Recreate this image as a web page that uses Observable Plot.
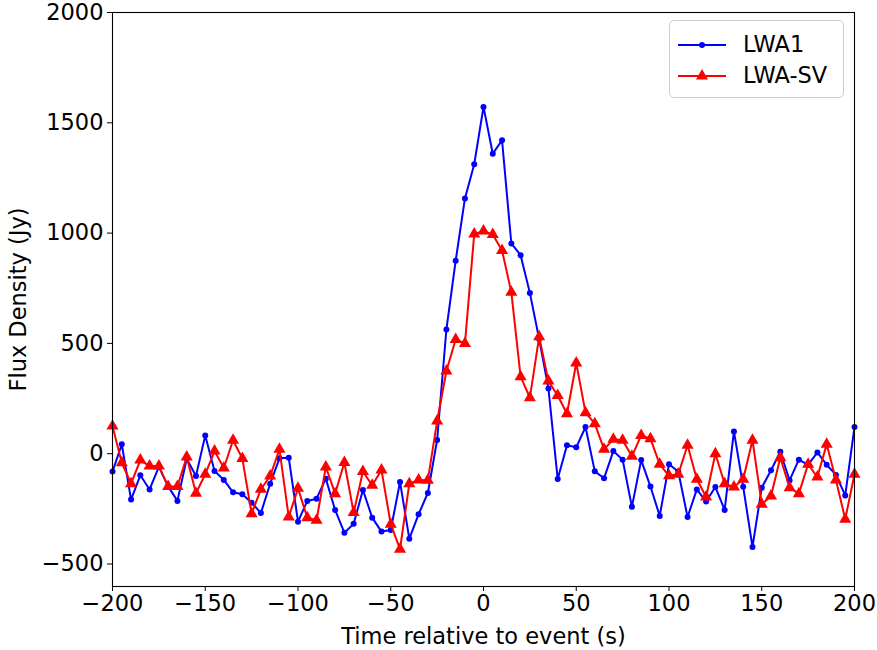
<!DOCTYPE html>
<html><head><meta charset="utf-8">
<script src="https://cdn.jsdelivr.net/npm/d3@7"></script>
<script src="https://cdn.jsdelivr.net/npm/@observablehq/plot@0.6"></script>
<style>
body{margin:0;background:#fff;}
#wrap{position:relative;width:877px;height:650px;font-family:"DejaVu Sans";}
.legend{position:absolute;left:669px;top:20px;width:175px;height:78px;border:1px solid #cccccc;border-radius:5px;background:rgba(255,255,255,0.8);box-sizing:border-box;}
.legend .row{position:absolute;left:0;height:30px;width:100%;}
.legend .row svg{position:absolute;left:7px;top:0;}
.legend .row span{position:absolute;left:73px;top:1px;font-size:22.5px;line-height:27px;color:#000;}
</style></head><body><div id="wrap"></div>
<script>
const times=[-200,-195,-190,-185,-180,-175,-170,-165,-160,-155,-150,-145,-140,-135,-130,-125,-120,-115,-110,-105,-100,-95,-90,-85,-80,-75,-70,-65,-60,-55,-50,-45,-40,-35,-30,-25,-20,-15,-10,-5,0,5,10,15,20,25,30,35,40,45,50,55,60,65,70,75,80,85,90,95,100,105,110,115,120,125,130,135,140,145,150,155,160,165,170,175,180,185,190,195,200];
const lwa1=[-81,43,-208,-98,-162,-60,-148,-214,-23,-101,83,-78,-119,-175,-184,-222,-269,-136,-21,-18,-308,-214,-204,-113,-255,-358,-318,-164,-290,-353,-346,-128,-385,-275,-178,62,563,875,1157,1312,1572,1360,1421,953,900,729,520,296,-115,38,29,121,-80,-111,12,-27,-241,-29,-149,-282,-48,-81,-287,-162,-217,-151,-255,101,-150,-423,-154,-75,9,-121,-27,-51,6,-50,-96,-189,121];
const lwasv=[125,-41,-136,-29,-56,-56,-149,-149,-15,-179,-93,12,-65,61,-22,-272,-161,-101,20,-287,-157,-290,-302,-60,-181,-40,-267,-81,-143,-74,-320,-433,-136,-119,-120,148,375,518,500,996,1009,994,921,732,349,254,530,329,264,181,411,186,136,20,65,61,-12,83,68,-48,-100,-93,38,-116,-196,0,-136,-151,-116,61,-229,-192,-18,-154,-181,-48,-106,43,-119,-297,-93];
const seriesNames=["LWA1","LWA-SV"];
const seriesColors=["#0000ff","#ff0000"];
const xTicks=[-200,-150,-100,-50,0,50,100,150,200];
const yTicks=[-500,0,500,1000,1500,2000];
const xLabel="Time relative to event (s)";
const yLabel="Flux Density (Jy)";

const rows1=times.map((t,i)=>({t,v:lwa1[i]}));
const rows2=times.map((t,i)=>({t,v:lwasv[i]}));
const fmt=d=>String(d).replace("-","\u2212");

const chart=Plot.plot({
  width:877,height:650,
  marginLeft:112,marginRight:23,marginTop:12,marginBottom:64,
  style:{fontFamily:"DejaVu Sans",fontSize:"22.5px",background:"white",color:"black",overflow:"visible"},
  x:{domain:[-200,200]},
  y:{domain:[-602,2000]},
  marks:[
    Plot.axisX({ticks:xTicks,tickFormat:fmt,tickSize:5,tickPadding:4,label:xLabel,labelAnchor:"center",labelOffset:57,labelArrow:"none"}),
    Plot.axisY({ticks:yTicks,tickFormat:fmt,tickSize:5,tickPadding:4,label:yLabel,labelAnchor:"center",labelOffset:102,labelArrow:"none"}),
    Plot.line(rows1,{x:"t",y:"v",stroke:seriesColors[0],strokeWidth:2}),
    Plot.dot(rows1,{x:"t",y:"v",r:3,fill:seriesColors[0],stroke:"none"}),
    Plot.line(rows2,{x:"t",y:"v",stroke:seriesColors[1],strokeWidth:2}),
    Plot.dot(rows2,{x:"t",y:"v",r:4.5,symbol:"triangle",fill:seriesColors[1],stroke:"none"}),
    Plot.frame({stroke:"black",strokeWidth:1.1})
  ]
});
const wrap=document.getElementById("wrap");
wrap.appendChild(chart);

const leg=d3.select(wrap).append("div").attr("class","legend");
seriesNames.forEach((name,i)=>{
  const row=leg.append("div").attr("class","row").style("top",(9+i*31)+"px");
  const svg=row.append("svg").attr("width",50).attr("height",30);
  svg.append("line").attr("x1",1).attr("x2",49).attr("y1",15).attr("y2",15).attr("stroke",seriesColors[i]).attr("stroke-width",2);
  const sym=i===0?d3.symbolCircle:d3.symbolTriangle;
  const size=i===0?Math.PI*9:Math.PI*4.5*4.5;
  svg.append("path").attr("d",d3.symbol(sym,size)()).attr("transform","translate(25,15)").attr("fill",seriesColors[i]);
  row.append("span").text(name);
});
</script></body></html>
